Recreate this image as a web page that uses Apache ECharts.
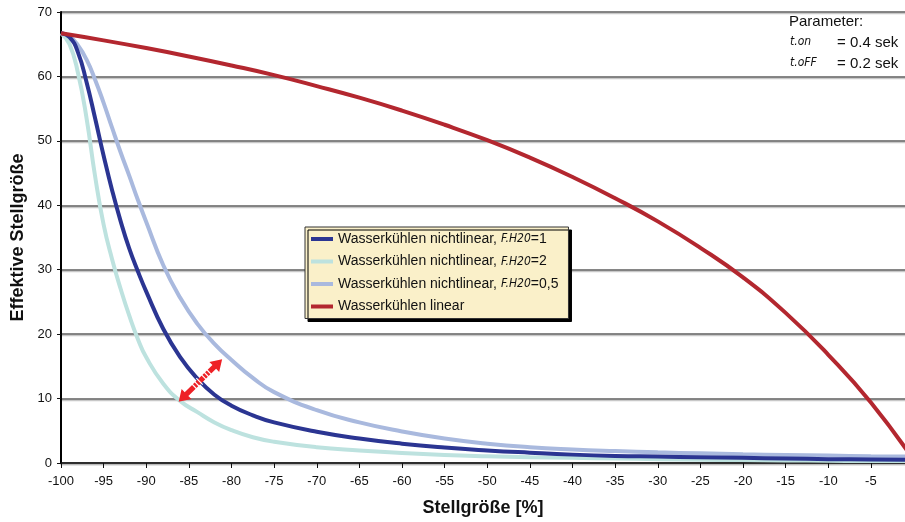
<!DOCTYPE html>
<html>
<head>
<meta charset="utf-8">
<script src="https://cdn.jsdelivr.net/npm/echarts@6/dist/echarts.min.js"></script>
<style>
  html, body { margin: 0; padding: 0; background: #fff; }
  #chart { width: 905px; height: 522px; }
</style>
</head>
<body>
<div id="chart"></div>
<script>
// Stellgröße [%] - sample positions (dense where curves are steep)
var xNonlin = [-100, -99, -98, -97, -96, -95, -94, -93, -92, -91, -90, -88, -86, -84, -82, -80, -77.5, -75,
  -70, -65, -60, -55, -50, -45, -40, -35, -30, -25, -20, -15, -10, -5, 0]
// Wasserkühlen nichtlinear, F.H20 = 1
var yFH1 = [66.7, 66.1, 63.7, 59.1, 53.5, 47.7, 42.3, 37.5, 33.3, 29.8, 26.6, 20.8, 16.4, 13.1, 10.6, 8.9, 7.4, 6.3,
  4.85, 3.8, 3.0, 2.4, 1.95, 1.6, 1.3, 1.1, 1.0, 0.9, 0.8, 0.7, 0.6, 0.55, 0.5]
// Wasserkühlen nichtlinear, F.H20 = 2
var yFH2 = [66.7, 65.0, 60.5, 53.5, 44.5, 37.0, 31.6, 27.0, 22.9, 19.3, 16.4, 12.3, 9.6, 7.9, 6.3, 5.1, 4.0, 3.3,
  2.45, 1.95, 1.55, 1.25, 1.05, 0.9, 0.8, 0.7, 0.6, 0.5, 0.45, 0.4, 0.35, 0.3, 0.3]
// Wasserkühlen nichtlinear, F.H20 = 0,5
var yFH05 = [66.7, 66.2, 64.8, 62.6, 59.5, 55.9, 52.0, 48.2, 44.6, 40.9, 37.4, 30.7, 25.6, 21.6, 18.5, 16.0, 13.2, 11.0,
  8.2, 6.3, 4.9, 3.8, 3.0, 2.45, 2.1, 1.85, 1.65, 1.5, 1.35, 1.25, 1.15, 1.05, 1.0]
// Wasserkühlen linear
var xLinear = [-100, -95, -90, -85, -80, -75, -70, -65, -60, -55, -50, -45, -40, -35, -30, -25, -20, -15, -10, -5, 0]
var yLinear = [66.7, 65.6, 64.4, 63.1, 61.7, 60.2, 58.5, 56.7, 54.7, 52.5, 50.1, 47.4, 44.4, 41.1, 37.5, 33.4, 28.8, 23.3, 16.8, 9.4, 0.5]

var seriesNames = [
  'Wasserkühlen nichtlinear, F.H20=1',
  'Wasserkühlen nichtlinear, F.H20=2',
  'Wasserkühlen nichtlinear, F.H20=0,5',
  'Wasserkühlen linear'
]
var seriesColors = ['#2b3592', '#bde2df', '#a9b9de', '#b3272f']

function pairs (xs, ys) {
  var out = []
  for (var i = 0; i < xs.length; i++) {
    out.push([xs[i], ys[i]])
  }
  return out
}

function lineSeries (idx, data, z) {
  return {
    name: seriesNames[idx],
    type: 'line',
    data: data,
    smooth: 0.5,
    symbol: 'none',
    showSymbol: false,
    z: z,
    lineStyle: { color: seriesColors[idx], width: 4 },
    itemStyle: { color: seriesColors[idx] }
  }
}

var chart = echarts.init(document.getElementById('chart'))
chart.setOption({
  animation: false,
  textStyle: { fontFamily: 'Liberation Sans, Arial, sans-serif' },
  grid: {
    left: 61,
    top: 12,
    bottom: 59,
    right: 0
  },
  legend: {
    orient: 'vertical',
    left: 305,
    top: 227,
    padding: [4, 10, 4, 6],
    itemWidth: 22,
    itemHeight: 4,
    itemGap: 6.5,
    icon: 'rect',
    backgroundColor: '#faf0c9',
    borderColor: '#333',
    borderWidth: 1,
    shadowColor: '#000',
    shadowBlur: 0,
    shadowOffsetX: 3,
    shadowOffsetY: 3,
    data: seriesNames,
    formatter: function (name) {
      return name.replace('F.H20', '{lcd|F.H20}')
    },
    textStyle: {
      color: '#111',
      fontSize: 14,
      lineHeight: 16,
      rich: {
        lcd: {
          fontFamily: 'DejaVu Sans Condensed',
          fontStyle: 'italic',
          fontSize: 12,
          color: '#111'
        }
      }
    }
  },
  xAxis: {
    type: 'value',
    min: -100,
    max: -1, // rechter Bildrand, 0 ist abgeschnitten
    interval: 5,
    name: 'Stellgröße [%]',
    nameLocation: 'middle',
    nameGap: 36,
    nameTextStyle: { fontSize: 18, fontWeight: 'bold', color: '#111' },
    axisLine: { lineStyle: { color: '#111', width: 1.5, shadowColor: '#bbb', shadowOffsetY: 1.5 } },
    axisTick: { show: true, length: 5, lineStyle: { color: '#111' } },
    axisLabel: { color: '#111', fontSize: 13, margin: 12, showMaxLabel: false },
    splitLine: { show: false }
  },
  yAxis: {
    type: 'value',
    min: 0,
    max: 70,
    interval: 10,
    name: 'Effektive Stellgröße',
    nameLocation: 'middle',
    nameGap: 34,
    nameTextStyle: { fontSize: 18, fontWeight: 'bold', color: '#111' },
    axisLine: { show: true, lineStyle: { color: '#000', width: 2 } },
    axisTick: { show: true, length: 4, lineStyle: { color: '#111' } },
    axisLabel: { color: '#111', fontSize: 13, margin: 9 },
    splitLine: {
      show: true,
      lineStyle: { color: '#5e5e5e', width: 1.5, shadowColor: '#c8c8c8', shadowOffsetY: 1.5 }
    }
  },
  series: [
    lineSeries(0, pairs(xNonlin, yFH1), 4),
    lineSeries(1, pairs(xNonlin, yFH2), 2),
    lineSeries(2, pairs(xNonlin, yFH05), 3),
    lineSeries(3, pairs(xLinear, yLinear), 5)
  ]
})

// Parameter oben rechts
var paramGraphics = [
  { type: 'text', left: 789, top: 14, style: { text: 'Parameter:', fontSize: 15, fill: '#111', fontFamily: 'Liberation Sans' } },
  { type: 'text', left: 790, top: 36, style: { text: 't.on', fontSize: 12, fill: '#111', fontFamily: 'DejaVu Sans Condensed', fontStyle: 'italic' } },
  { type: 'text', left: 837, top: 35, style: { text: '= 0.4 sek', fontSize: 15, fill: '#111', fontFamily: 'Liberation Sans' } },
  { type: 'text', left: 790, top: 57, style: { text: 't.oFF', fontSize: 12, fill: '#111', fontFamily: 'DejaVu Sans Condensed', fontStyle: 'italic' } },
  { type: 'text', left: 837, top: 56, style: { text: '= 0.2 sek', fontSize: 15, fill: '#111', fontFamily: 'Liberation Sans' } }
]

// roter Doppelpfeil zwischen F.H20=2 und F.H20=0,5
var a = chart.convertToPixel({ gridIndex: 0 }, [-86.2, 9.5])
var b = chart.convertToPixel({ gridIndex: 0 }, [-81.1, 16.1])
var dx = b[0] - a[0]
var dy = b[1] - a[1]
var len = Math.sqrt(dx * dx + dy * dy)
var u = [dx / len, dy / len]
var n = [-u[1], u[0]]
var hl = 11
var hw = 7
var sw = 2.6
function pt (base, along, across) {
  return [base[0] + u[0] * along + n[0] * across, base[1] + u[1] * along + n[1] * across]
}
var arrowPoints = [
  a, pt(a, hl, hw), pt(a, hl, sw), pt(b, -hl, sw), pt(b, -hl, hw), b,
  pt(b, -hl, -hw), pt(b, -hl, -sw), pt(a, hl, -sw), pt(a, hl, -hw)
]
var arrowGraphics = [{
  type: 'polygon',
  shape: { points: arrowPoints },
  style: { fill: '#ee2126' },
  z: 10
}]
var stripes = [0.36, 0.42, 0.48, 0.58, 0.64, 0.7]
stripes.forEach(function (t) {
  var c = [a[0] + dx * t, a[1] + dy * t]
  arrowGraphics.push({
    type: 'line',
    shape: {
      x1: c[0] + n[0] * (sw + 2), y1: c[1] + n[1] * (sw + 2),
      x2: c[0] - n[0] * (sw + 2), y2: c[1] - n[1] * (sw + 2)
    },
    style: { stroke: '#fff', lineWidth: 1.2 },
    z: 11
  })
})

chart.setOption({ graphic: paramGraphics.concat(arrowGraphics) })
</script>
</body>
</html>
